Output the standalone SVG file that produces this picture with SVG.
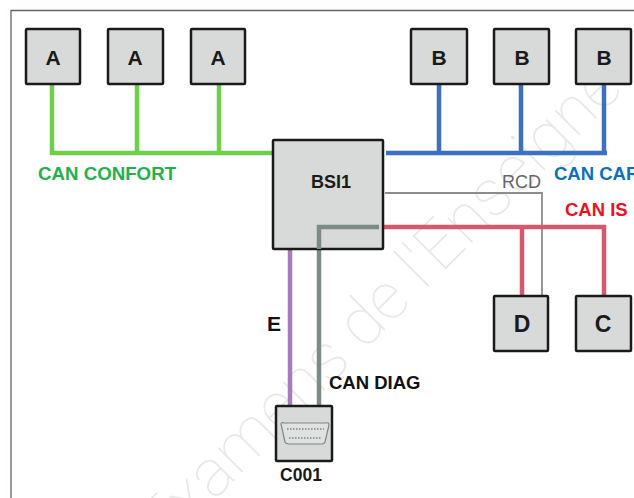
<svg xmlns="http://www.w3.org/2000/svg" width="634" height="498" viewBox="0 0 634 498">
<style>
.n{fill:#d7dad8;stroke:#1a1a1a;stroke-width:2.5}
.t{font-family:"Liberation Sans",Arial,sans-serif;font-weight:700;font-size:21px;fill:#1a1a1a;text-anchor:middle}
.l{font-family:"Liberation Sans",Arial,sans-serif;font-weight:700;font-size:18.500px}
.c{fill:none;stroke-width:4.500}
</style>
<rect width="634" height="498" fill="#fff"/>
<path d="M11 498V10.500H634" fill="none" stroke="#6f5f62" stroke-width="1.300"/>
<text transform="translate(165 550) rotate(-45)" font-family="Roboto,Liberation Sans,sans-serif" font-weight="100" font-size="66" fill="#e9e8e8">Examens de l'Enseigne</text>
<g id="connectors">
<path class="c" stroke="#6fcf4b" d="M52 84V153H272M137 84V153M219 84V153"/>
<path class="c" stroke="#3d71bd" d="M386 153H607M439 84V153M521 84V153M604 84V153"/>
<path d="M385 193H542V296" fill="none" stroke="#8d8d8d" stroke-width="1.800"/>
<path class="c" stroke="#d4596f" d="M384 227H604V296M522 227V296"/>
<path class="c" stroke="#a47cbc" d="M290 250V406"/>
<path class="c" stroke="#7b8c87" d="M319 406V227H379"/>
</g>
<g id="node-a1"><rect class="n" x="26" y="29" width="54" height="55" rx="1"/><text class="t" x="53" y="65">A</text></g>
<g id="node-a2"><rect class="n" x="108" y="29" width="55" height="55" rx="1"/><text class="t" x="135" y="65">A</text></g>
<g id="node-a3"><rect class="n" x="191" y="29" width="54" height="55" rx="1"/><text class="t" x="218" y="65">A</text></g>
<g id="node-b1"><rect class="n" x="411" y="29" width="56" height="55" rx="1"/><text class="t" x="439" y="65">B</text></g>
<g id="node-b2"><rect class="n" x="494" y="29" width="55" height="55" rx="1"/><text class="t" x="522" y="65">B</text></g>
<g id="node-b3"><rect class="n" x="576" y="29" width="55" height="55" rx="1"/><text class="t" x="604" y="65">B</text></g>
<g id="node-bsi1"><rect class="n" x="273" y="140" width="110" height="109" rx="1"/><text class="t" x="331" y="188" style="font-size:18px">BSI1</text></g>
<path class="c" stroke="#7b8c87" d="M319 249V227H379"/>
<g id="node-d"><rect class="n" x="494" y="296" width="54" height="55" rx="1"/><text class="t" x="522" y="332" style="font-size:23px">D</text></g>
<g id="node-c"><rect class="n" x="576" y="296" width="55" height="55" rx="1"/><text class="t" x="603" y="332" style="font-size:23px">C</text></g>
<g id="node-c001">
<rect class="n" x="276" y="406" width="56" height="55" rx="1"/>
<path d="M281 424Q281 422 284 423H326Q329 422 329 425L325 442Q324 444 322 444H289Q286 444 285 442Z" fill="#dfe2e0" stroke="#7d8583" stroke-width="1.200"/>
<path d="M287 429H324M289 438H321" fill="none" stroke="#7d8583" stroke-width="1.500" stroke-dasharray="1.500 1.500"/>
<text class="t" x="301" y="481" style="font-size:17.500px">C001</text>
</g>
<g id="labels">
<text class="l" x="38" y="180" fill="#22b14c" style="font-size:18.700px">CAN CONFORT</text>
<text class="l" x="554" y="180" fill="#0a70c0">CAN CAR</text>
<text class="l" x="565" y="216" fill="#f01020">CAN IS</text>
<text x="502" y="188" font-family="Liberation Sans,Arial,sans-serif" font-size="18" fill="#666">RCD</text>
<text class="l" x="267" y="331" fill="#111" style="font-size:21px">E</text>
<text class="l" x="329" y="389" fill="#111">CAN DIAG</text>
</g>
</svg>
